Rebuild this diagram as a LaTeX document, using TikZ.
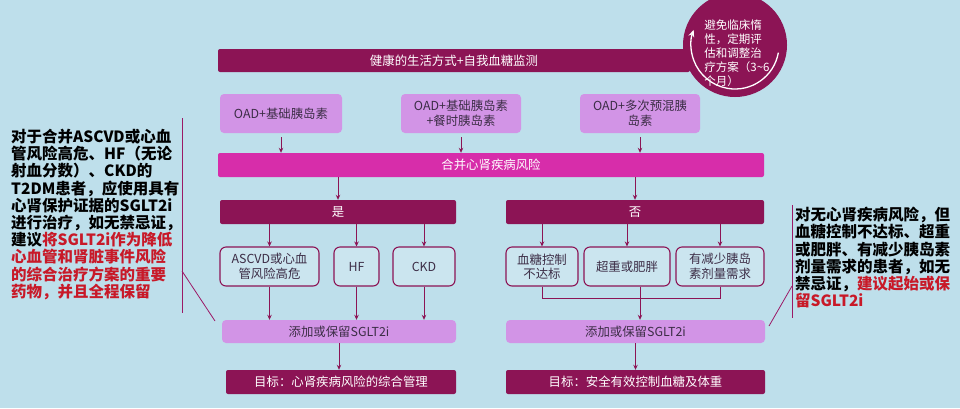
\documentclass[tikz,border=0pt]{standalone}
\usepackage{fontspec}
\setmainfont{Noto Sans CJK SC}
\usepackage{xcolor}
\usetikzlibrary{positioning,arrows.meta,calc}
\definecolor{bgblue}{RGB}{190,223,235}
\definecolor{plum}{RGB}{140,20,85}
\definecolor{rose}{RGB}{215,45,170}
\definecolor{lilac}{RGB}{210,148,230}
\definecolor{inktxt}{RGB}{60,45,70}
\definecolor{alert}{RGB}{200,25,40}
\newcommand{\boxfont}{\fontsize{12.4}{14.5}\selectfont}
\newcommand{\notefont}{\fontsize{15.5}{17.2}\selectfont\bfseries}

\begin{document}
\begin{tikzpicture}[x=1pt,y=-1pt,
  darkbar/.style={fill=plum,rounded corners=2pt,text=white,font=\boxfont,inner sep=0pt},
  riskbar/.style={fill=rose,rounded corners=2pt,text=white,font=\boxfont,inner sep=0pt},
  planbox/.style={fill=lilac,rounded corners=4pt,text=inktxt,font=\boxfont,align=center,inner sep=0pt},
  condbox/.style={draw=plum,line width=1.1pt,fill=bgblue!80!white,rounded corners=6pt,
                  text=inktxt,font=\boxfont,align=center,inner sep=0pt},
  arr/.style={draw=plum,line width=0.9pt,-{Stealth[length=5pt,width=4.5pt]}},
  link/.style={draw=plum,line width=0.9pt},
  callout/.style={draw=plum!80!rose,line width=0.8pt}]

  \useasboundingbox (0,0) rectangle (960,408);
  \fill[bgblue] (0,0) rectangle (960,408);

  % Top bar and review circle
  \node[darkbar,minimum width=472,minimum height=23] (life) at (454,60.5)
       {健康的生活方式+自我血糖监测};
  \node[circle,fill=plum,minimum size=104,inner sep=0pt] (review) at (735,45) {};
  \draw[white,line width=1.3pt,-{Stealth[length=7pt,width=6pt]}]
       ([shift={(10:44)}]review.center) arc[start angle=10,end angle=200,radius=44];
  \node[text=white,font=\fontsize{11.5}{14}\selectfont,align=left,inner sep=0pt]
       (reviewtxt) at (737,53) {避免临床惰\\性，定期评\\估和调整治\\疗方案（3\textasciitilde6\\个月）};

  % Insulin plans
  \node[planbox,minimum width=122,minimum height=39] (oad1) at (281,113.5) {OAD+基础胰岛素};
  \node[planbox,minimum width=120,minimum height=39] (oad2) at (461,113.5) {OAD+基础胰岛素\\+餐时胰岛素};
  \node[planbox,minimum width=120,minimum height=39] (oad3) at (640,113.5) {OAD+多次预混胰\\岛素};

  \node[riskbar,minimum width=546,minimum height=24] (risk) at (491,165) {合并心肾疾病风险};
  \foreach \b in {oad1,oad2,oad3}{
    \draw[arr,shorten <=4pt] (\b.south) -- (\b.south |- risk.north);
  }

  % Yes / no branches
  \node[darkbar,minimum width=236,minimum height=24] (yes) at (338,212) {是};
  \node[darkbar,minimum width=258,minimum height=24] (no) at (635,212) {否};
  \draw[arr] (risk.south -| yes) -- (yes.north);
  \draw[arr] (risk.south -| no) -- (no.north);

  \node[condbox,minimum width=99,minimum height=39] (ascvd) at (269.5,266.5) {ASCVD或心血\\管风险高危};
  \node[condbox,minimum width=45,minimum height=39] (hf) at (356.5,266.5) {HF};
  \node[condbox,minimum width=62,minimum height=39] (ckd) at (424,266.5) {CKD};
  \node[condbox,minimum width=72,minimum height=39] (glu) at (542,266.5) {血糖控制\\不达标};
  \node[condbox,minimum width=86,minimum height=39] (obese) at (627,266.5) {超重或肥胖};
  \node[condbox,minimum width=88,minimum height=39] (insu) at (720,266.5) {有减少胰岛\\素剂量需求};

  \draw[arr] (yes.south -| ascvd) -- (ascvd.north);
  \draw[arr] (yes.south -| hf) -- (hf.north);
  \draw[arr] (yes.south -| ckd) -- (ckd.north);
  \draw[arr] (no.south -| glu) -- (glu.north);
  \draw[arr] (no.south -| obese) -- (obese.north);
  \draw[arr] (no.south -| insu) -- (insu.north);

  % Add SGLT2i and goals
  \node[planbox,minimum width=234,minimum height=23] (add1) at (339,331.5) {添加或保留SGLT2i};
  \node[planbox,minimum width=259,minimum height=23] (add2) at (635.5,331.5) {添加或保留SGLT2i};
  \node[darkbar,minimum width=230,minimum height=24] (goal1) at (341,382) {目标：心肾疾病风险的综合管理};
  \node[darkbar,minimum width=259,minimum height=24] (goal2) at (635.5,382) {目标：安全有效控制血糖及体重};

  \foreach \b in {ascvd,hf,ckd}{
    \draw[arr] (\b.south) -- (\b.south |- add1.north);
  }
  \coordinate (nojoin) at (640,298);
  \draw[link] (glu.south) |- (nojoin);
  \draw[link] (insu.south) |- (nojoin);
  \draw[link] (obese.south -| nojoin) -- (nojoin);
  \draw[arr] (nojoin) -- (nojoin |- add2.north);
  \draw[arr] (add1) -- (add1 |- goal1.north);
  \draw[arr] (add2) -- (add2 |- goal2.north);

  % Side notes
  \node[anchor=north west,align=left,font=\notefont,inner sep=0pt] (leftnote) at (11,129)
       {对于合并ASCVD或心血\\
        管风险高危、HF（无论\\
        射血分数）、CKD的\\
        T2DM患者，应使用具有\\
        心肾保护证据的SGLT2i\\
        进行治疗，如无禁忌证，\\
        建议{\color{alert}将SGLT2i作为降低}\\
        {\color{alert}心血管和肾脏事件风险}\\
        {\color{alert}的综合治疗方案的重要}\\
        {\color{alert}药物，并且全程保留}};
  \node[anchor=north west,align=left,font=\notefont,inner sep=0pt] (rightnote) at (795,207)
       {对无心肾疾病风险，但\\
        血糖控制不达标、超重\\
        或肥胖、有减少胰岛素\\
        剂量需求的患者，如无\\
        禁忌证，{\color{alert}建议起始或保}\\
        {\color{alert}留SGLT2i}};

  \coordinate (ltop) at (182,118);
  \coordinate (lbot) at (182,313);
  \coordinate (lfork) at (182,271);
  \coordinate (ltip) at (215,321);
  \draw[callout] (ltop) -- (lbot);
  \draw[callout] (lfork) -- (ltip);
  \coordinate (rtop) at (792,205);
  \coordinate (rbot) at (792,318);
  \coordinate (rfork) at (792,286);
  \coordinate (rtip) at (769,326);
  \draw[callout] (rtop) -- (rbot);
  \draw[callout] (rfork) -- (rtip);
\end{tikzpicture}
\end{document}
